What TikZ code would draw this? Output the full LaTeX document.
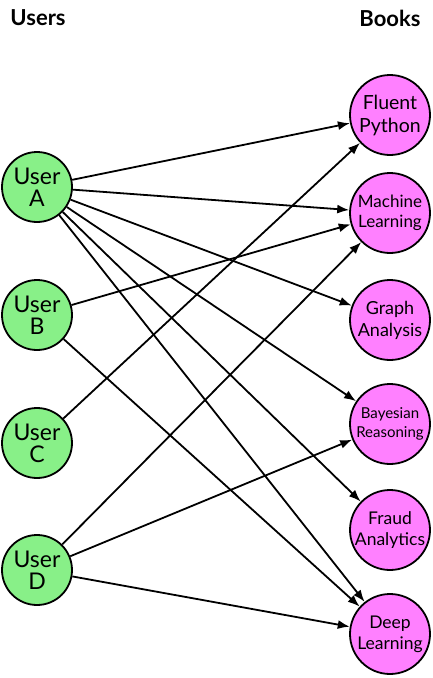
\documentclass[tikz,border=0pt]{standalone}
\usepackage{fontspec}
\setmainfont{Lato}
\usetikzlibrary{arrows.meta}
\definecolor{ugreen}{RGB}{136,240,136}
\definecolor{bpink}{RGB}{255,128,255}
\tikzset{
  user/.style={circle,draw=black,line width=1.8pt,fill=ugreen,minimum size=70pt,inner sep=0pt,align=center,font=\fontsize{23}{25}\selectfont},
  book/.style={circle,draw=black,line width=1.8pt,fill=bpink,minimum size=80pt,inner sep=0pt,align=center},
  title/.style={font=\fontsize{22}{24}\selectfont\bfseries},
  edge/.style={line width=1.8pt,-{Latex[length=12pt,width=9pt]}}
}
\begin{document}
\begin{tikzpicture}[x=1pt,y=-1pt]
\useasboundingbox (0,0) rectangle (433,678);
\node[title] (tu) at (38,18) {Users};
\node[title] (tb) at (390,18) {Books};
\node[user] (A) at (37,187) {User\\[-3pt]A};
\node[user] (B) at (37,315) {User\\[-3pt]B};
\node[user] (C) at (37,443) {User\\[-3pt]C};
\node[user] (D) at (37,570) {User\\[-3pt]D};
\node[book,font=\fontsize{19.5}{23}\selectfont] (FP) at (390,115) {Fluent\\Python};
\node[book,font=\fontsize{17}{20}\selectfont] (ML) at (390,213) {Machine\\Learning};
\node[book,font=\fontsize{18}{22}\selectfont] (GA) at (390,320) {Graph\\Analysis};
\node[book,font=\fontsize{15}{19}\selectfont] (BR) at (390,424) {Bayesian\\Reasoning};
\node[book,font=\fontsize{17.5}{21}\selectfont] (FA) at (390,530) {Fraud\\Analytics};
\node[book,font=\fontsize{17.5}{21}\selectfont] (DL) at (390,634) {Deep\\Learning};
\draw[edge] (A) -- (FP);
\draw[edge] (A) -- (ML);
\draw[edge] (A) -- (GA);
\draw[edge] (A) -- (BR);
\draw[edge] (A) -- (FA);
\draw[edge] (A) -- (DL);
\draw[edge] (B) -- (ML);
\draw[edge] (B) -- (DL);
\draw[edge] (C) -- (FP);
\draw[edge] (D) -- (ML);
\draw[edge] (D) -- (BR);
\draw[edge] (D) -- (DL);
\end{tikzpicture}
\end{document}
